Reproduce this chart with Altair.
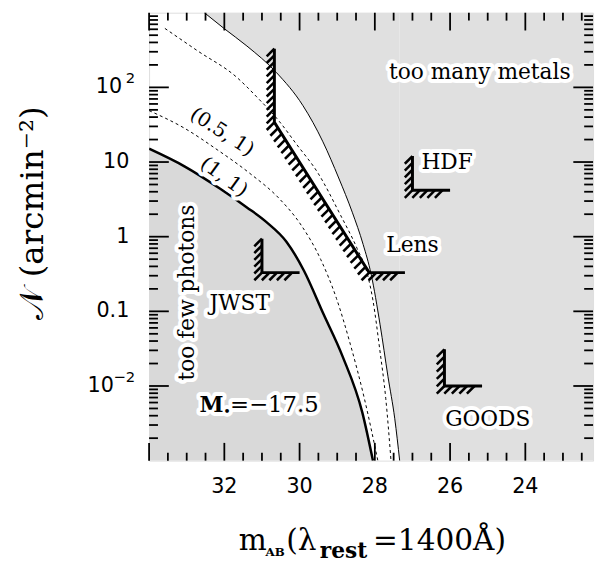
import math
import altair as alt
import pandas as pd

# ---------------- data ----------------
# curves: m_AB (x) and log10 N (y)
thick_m    = [34.00, 33.06, 32.11, 31.40, 30.88, 30.35, 29.88, 29.38, 28.86, 28.33, 28.05]
thick_logn = [1.178, 0.942, 0.641, 0.392, 0.195, -0.067, -0.460, -1.020, -1.600, -2.360, -3.0]

dashB_m    = [34.00, 33.06, 32.19, 31.33, 30.54, 29.96, 29.44, 29.02, 28.65, 28.28, 27.92]
dashB_logn = [1.689, 1.453, 1.165, 0.851, 0.510, 0.156, -0.303, -0.827, -1.443, -2.164, -3.0]

dashA_m    = [33.58, 32.71, 31.67, 31.14, 30.54, 30.09, 29.51, 28.91, 28.47, 28.20, 28.05, 27.87, 27.71, 27.57]
dashA_logn = [2.790, 2.489, 2.135, 1.873, 1.545, 1.244, 0.851, 0.287, -0.159, -0.499, -0.853, -1.508, -2.164, -3.0]

thin_m    = [32.53, 32.01, 31.40, 30.62, 29.91, 29.38, 28.96, 28.60, 28.31, 28.10, 27.86, 27.65, 27.47, 27.34]
thin_logn = [3.0, 2.790, 2.554, 2.201, 1.755, 1.271, 0.786, 0.328, -0.105, -0.499, -1.180, -1.876, -2.439, -3.0]

# survey limits (hatched polylines): m_AB and N
jwst_m,  jwst_n  = [31.0, 31.0, 30.0], [0.94, 0.33, 0.33]
lens_m,  lens_n  = [30.67, 30.67, 28.15, 27.2], [330, 34, 0.33, 0.33]
hdf_m,   hdf_n   = [27.0, 27.0, 26.0], [12, 4.2, 4.2]
goods_m, goods_n = [26.15, 26.15, 25.15], [0.031, 0.01, 0.01]

# axes
X_MIN, X_MAX = 22.2, 34.0
Y_MIN, Y_MAX = 1e-3, 1e3
x_label_vals = [32, 30, 28, 26, 24]
x_label_text = ["32", "30", "28", "26", "24"]
y_plain_vals = [0.1, 1, 10]
y_plain_text = ["0.1", "1", "10"]
y_pow_vals = [0.01, 100]
y_pow_base = ["10", "10"]
y_pow_exp = ["−2", "2"]
x_major_ticks = [34, 32, 30, 28, 26, 24]
x_minor_ticks = [v / 2 for v in range(45, 68)]
y_major_ticks = [1e-2, 1e-1, 1, 10, 100]
y_minor_ticks = [k * 10.0 ** d for d in range(-3, 3) for k in range(2, 10)]

W, H = 450, 454
PXM = W / (X_MAX - X_MIN)
PXD = H / 6.0

xs = alt.Scale(domain=[X_MIN, X_MAX], reverse=True, nice=False, zero=False)
ys = alt.Scale(type="log", domain=[Y_MIN, Y_MAX], nice=False)

SERIF = "DejaVu Serif"
SANS = "DejaVu Sans"
METAL_GRAY = "#e0e0e0"
PHOTON_GRAY = "#d9d9d9"


def curve_df(ms, logns):
    return pd.DataFrame({"m": ms, "N": [10 ** v for v in logns], "i": range(len(ms))})


def poly_df(ms, ns):
    return pd.DataFrame({"m": ms, "N": ns, "i": range(len(ms))})


def enc():
    return dict(x=alt.X("m:Q", scale=xs, axis=None), y=alt.Y("N:Q", scale=ys, axis=None))


layers = []

# ---- shaded regions ----
layers.append(
    alt.Chart(curve_df(thin_m, thin_logn)).mark_area(clip=True, color=METAL_GRAY, interpolate="monotone")
    .encode(**enc(), y2=alt.datum(Y_MAX))
)
layers.append(
    alt.Chart(curve_df([thin_m[-1], X_MIN], [3.0, 3.0])).mark_area(clip=True, color=METAL_GRAY)
    .encode(**enc(), y2=alt.datum(Y_MIN))
)
layers.append(
    alt.Chart(curve_df(thick_m, thick_logn)).mark_area(clip=True, color=PHOTON_GRAY, interpolate="monotone")
    .encode(**enc(), y2=alt.datum(Y_MIN))
)

# ---- curves ----
layers.append(alt.Chart(curve_df(thin_m, thin_logn)).mark_line(
    color="black", strokeWidth=1, clip=True, interpolate="monotone").encode(**enc(), order="i:Q"))
layers.append(alt.Chart(curve_df(dashA_m, dashA_logn)).mark_line(
    color="black", strokeWidth=1, strokeDash=[3, 3], clip=True, interpolate="monotone").encode(**enc(), order="i:Q"))
layers.append(alt.Chart(curve_df(dashB_m, dashB_logn)).mark_line(
    color="black", strokeWidth=1, strokeDash=[3, 3], clip=True, interpolate="monotone").encode(**enc(), order="i:Q"))
layers.append(alt.Chart(curve_df(thick_m, thick_logn)).mark_line(
    color="black", strokeWidth=2.5, clip=True, interpolate="monotone").encode(**enc(), order="i:Q"))


# ---- hatched survey limits ----
def hatch_df(ms, ns, step=7.0):
    rows = []
    for k in range(len(ms) - 1):
        m1, m2 = ms[k], ms[k + 1]
        l1, l2 = math.log10(ns[k]), math.log10(ns[k + 1])
        L = math.hypot((m2 - m1) * PXM, (l2 - l1) * PXD)
        n = max(1, int(round(L / step)))
        for j in range(n):
            t = j / n
            rows.append({"m": m1 + (m2 - m1) * t, "N": 10 ** (l1 + (l2 - l1) * t)})
    return pd.DataFrame(rows)


for ms, ns in [(jwst_m, jwst_n), (lens_m, lens_n), (hdf_m, hdf_n), (goods_m, goods_n)]:
    layers.append(alt.Chart(hatch_df(ms, ns)).mark_point(
        shape="M0,0L-1,1", size=240, filled=False, stroke="black", strokeWidth=2.6,
        opacity=1, strokeCap="butt").encode(**enc()))
    layers.append(alt.Chart(poly_df(ms, ns)).mark_line(color="black", strokeWidth=3,
                  strokeJoin="miter").encode(**enc(), order="i:Q"))


# ---- labels ----
def label(text, m, logn, size=22, angle=0, halo=True, weight="normal", align="center",
          baseline="middle", dx=0, dy=0, font=SERIF, halo_w=8):
    d = pd.DataFrame({"m": [m], "N": [10 ** logn], "t": [text]})
    kw = dict(font=font, fontSize=size, angle=angle, align=align, baseline=baseline,
              dx=dx, dy=dy, fontWeight=weight)
    out = []
    if halo:
        out.append(alt.Chart(d).mark_text(stroke="white", strokeWidth=halo_w, fill="white",
                                          strokeJoin="round", **kw).encode(**enc(), text="t:N"))
    out.append(alt.Chart(d).mark_text(color="black", **kw).encode(**enc(), text="t:N"))
    return out


halo_layers, text_layers = [], []
mstar_m, mstar_logn = 32.66, -2.256
specs = [
    dict(text="too many metals", m=25.21, logn=2.20),
    dict(text="HDF", m=26.08, logn=0.995),
    dict(text="Lens", m=27.0, logn=-0.119),
    dict(text="GOODS", m=25.0, logn=-2.439),
    dict(text="JWST", m=31.59, logn=-0.893),
    dict(text="too few photons", m=32.98, logn=-0.748, angle=270),
    dict(text="(0.5, 1)", m=32.06, logn=1.401, size=20, angle=33),
    dict(text="(1, 1)", m=32.01, logn=0.798, size=20, angle=36),
    # M* = -17.5 (pieces anchored at the label's left edge)
    dict(text="M", m=mstar_m, logn=mstar_logn, align="left", weight="bold"),
    dict(text="•", m=mstar_m, logn=mstar_logn, size=13, align="left", dx=24, dy=7),
    dict(text="=−17.5", m=mstar_m, logn=mstar_logn, size=23, align="left", dx=31),
]
for s in specs:
    h, tx = label(**s)
    halo_layers.append(h)
    text_layers.append(tx)

layers += halo_layers + text_layers


# ---- inward ticks on all four sides ----
def xticks(vals, length):
    d = pd.DataFrame({"m": vals})
    bx = alt.X("m:Q", scale=xs, axis=None)
    return [
        alt.Chart(d).mark_rule(color="black", strokeWidth=1.8).encode(x=bx, y=alt.value(H), y2=alt.value(H - length)),
        alt.Chart(d).mark_rule(color="black", strokeWidth=1.8).encode(x=bx, y=alt.value(0), y2=alt.value(length)),
    ]


def yticks(vals, length):
    d = pd.DataFrame({"N": vals})
    by = alt.Y("N:Q", scale=ys, axis=None)
    return [
        alt.Chart(d).mark_rule(color="black", strokeWidth=1.8).encode(y=by, x=alt.value(0), x2=alt.value(length)),
        alt.Chart(d).mark_rule(color="black", strokeWidth=1.8).encode(y=by, x=alt.value(W), x2=alt.value(W - length)),
    ]


layers += xticks([v for v in x_minor_ticks if v not in x_major_ticks], 8)
layers += xticks(x_major_ticks, 18)
layers += yticks(y_minor_ticks, 9)
layers += yticks(y_major_ticks, 20)

# ---- tick labels ----
layers.append(
    alt.Chart(pd.DataFrame({"m": x_label_vals, "t": x_label_text})).mark_text(
        font=SANS, fontSize=21, color="black", align="center", baseline="middle")
    .encode(x=alt.X("m:Q", scale=xs, axis=None), y=alt.value(H + 27), text="t:N")
)
ylab = alt.Y("N:Q", scale=ys, axis=None)
layers.append(
    alt.Chart(pd.DataFrame({"N": y_plain_vals, "t": y_plain_text})).mark_text(
        font=SANS, fontSize=21, color="black", align="right", baseline="middle")
    .encode(y=ylab, x=alt.value(-20), text="t:N")
)
pow_df = pd.DataFrame({"N": y_pow_vals, "b": y_pow_base, "e": y_pow_exp})
layers.append(
    alt.Chart(pow_df).mark_text(font=SANS, fontSize=15, color="black", align="right",
                                baseline="middle", dy=-9)
    .encode(y=ylab, x=alt.value(-14), text="e:N")
)
layers.append(
    alt.Chart(pow_df).mark_text(font=SANS, fontSize=21, color="black", align="right", baseline="middle")
    .encode(y=ylab, x=alt.X("e:N", scale=alt.Scale(domain=["2", "−2"], range=[-23, -40]), axis=None),
            text="b:N")
)


# ---- axis titles (with sub/superscripts) ----
def ptext(text, px, py, size, weight="normal", angle=0, align="left", baseline="alphabetic"):
    d = pd.DataFrame({"t": [text]})
    return alt.Chart(d).mark_text(font=SERIF, fontSize=size, fontWeight=weight, angle=angle,
                                  align=align, baseline=baseline, color="black").encode(
        x=alt.value(px), y=alt.value(py), text="t:N")


layers += [
    ptext("m", 91, 545, 30),
    ptext("AB", 118, 551, 12, weight="bold"),
    ptext("(λ", 139, 545, 30),
    ptext("rest", 173, 553, 22, weight="bold"),
    ptext("=1400Å)", 227, 545, 30),
    ptext("𝒩 (arcmin⁻²)", -118, 203, 33, angle=270, align="center", baseline="middle"),
]

chart = alt.layer(*layers).properties(
    width=W, height=H,
    autosize=alt.AutoSizeParams(type="none"),
    padding={"left": 143, "top": 1, "right": 4, "bottom": 103},
).configure_view(stroke="black", strokeWidth=3).configure(background="white")

chart.save("out.html", embed_options={"renderer": "svg", "actions": False})
